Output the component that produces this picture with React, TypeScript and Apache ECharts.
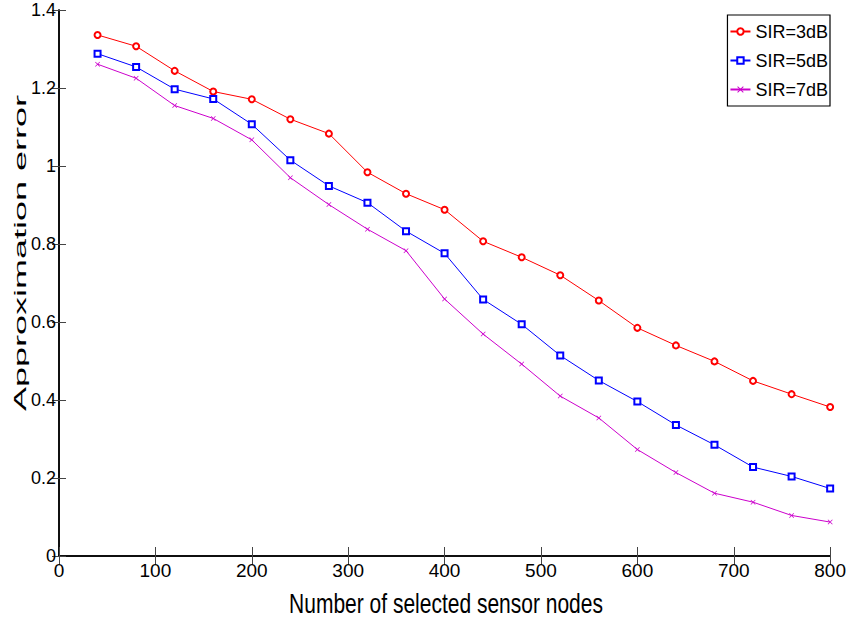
import React, { useEffect, useRef } from "react";
import * as echarts from "echarts";

const nodeCounts = [40, 80, 120, 160, 200, 240, 280, 320, 360, 400, 440, 480, 520, 560, 600, 640, 680, 720, 760, 800];
const sir3 = [1.336, 1.307, 1.244, 1.191, 1.171, 1.120, 1.083, 0.984, 0.929, 0.888, 0.807, 0.766, 0.720, 0.655, 0.585, 0.540, 0.499, 0.449, 0.415, 0.382];
const sir5 = [1.288, 1.254, 1.197, 1.172, 1.107, 1.015, 0.949, 0.906, 0.833, 0.776, 0.658, 0.594, 0.514, 0.450, 0.396, 0.336, 0.285, 0.228, 0.204, 0.173];
const sir7 = [1.261, 1.225, 1.155, 1.122, 1.067, 0.970, 0.901, 0.838, 0.783, 0.659, 0.569, 0.492, 0.410, 0.354, 0.273, 0.214, 0.161, 0.138, 0.104, 0.087];
const seriesNames = ["SIR=3dB", "SIR=5dB", "SIR=7dB"];
const xLabel = "Number of selected sensor nodes";
const yLabel = "Approximation error";

const FONT = "'Liberation Sans', Arial, sans-serif";
const xMark = "path://M0,1 L1,0 L5,4 L9,0 L10,1 L6,5 L10,9 L9,10 L5,6 L1,10 L0,9 L4,5 Z";

export default function App() {
  const ref = useRef<HTMLDivElement>(null);
  useEffect(() => {
    document.body.style.margin = "0";
    const chart = echarts.init(ref.current!, null, { renderer: "svg" });
    const pair = (ys: number[]) => nodeCounts.map((x, i) => [x, ys[i]]);
    const tickStyle = { show: true, inside: true, length: 9, lineStyle: { color: "#444", width: 1 } };
    const lineAxis = { show: true, lineStyle: { color: "#000", width: 1.5 } };
    chart.setOption({
      animation: false,
      backgroundColor: "#fff",
      grid: { left: 59, right: 16, top: 10, bottom: 65, containLabel: false },
      xAxis: [
        {
          type: "value", min: 0, max: 800, interval: 100, position: "bottom",
          axisLine: lineAxis, axisTick: tickStyle, splitLine: { show: false },
          axisLabel: { color: "#000", fontSize: 19, fontFamily: FONT, margin: 5 },
        },
        {
          type: "value", min: 0, max: 800, interval: 100, position: "top",
          axisLine: lineAxis, axisTick: tickStyle, splitLine: { show: false },
          axisLabel: { show: false },
        },
      ],
      yAxis: [
        {
          type: "value", min: 0, max: 1.4, interval: 0.2, position: "left",
          axisLine: lineAxis, axisTick: { ...tickStyle, length: 7 }, splitLine: { show: false },
          axisLabel: { color: "#000", fontSize: 18, fontFamily: FONT, margin: 3 },
        },
        {
          type: "value", min: 0, max: 1.4, interval: 0.2, position: "right",
          axisLine: lineAxis, axisTick: { ...tickStyle, length: 7 }, splitLine: { show: false },
          axisLabel: { show: false },
        },
      ],
      legend: {
        orient: "vertical", right: 19, top: 15,
        backgroundColor: "#fff", borderColor: "#000", borderWidth: 1.2, borderRadius: 0,
        padding: [4, 2, 4, 2], itemGap: 4, itemWidth: 20, itemHeight: 8,
        textStyle: { fontSize: 18, lineHeight: 25, fontFamily: FONT, color: "#000" },
        data: seriesNames,
      },
      graphic: [
        {
          type: "text", x: 21, y: 253, rotation: Math.PI / 2, scaleX: 2.25, scaleY: 1,
          style: { text: yLabel, fontSize: 16, fontFamily: FONT, fill: "#000", textAlign: "center", textVerticalAlign: "middle", verticalAlign: "middle", align: "center" },
        },
        {
          type: "text", x: 446, y: 603, scaleX: 0.75, scaleY: 1,
          style: { text: xLabel, fontSize: 28, fontFamily: FONT, fill: "#000", textAlign: "center", textVerticalAlign: "middle", verticalAlign: "middle", align: "center" },
        },
      ],
      series: [
        {
          name: seriesNames[0], type: "line", data: pair(sir3), symbol: "emptyCircle", symbolSize: 6,
          lineStyle: { color: "#ff0000", width: 1 }, itemStyle: { color: "#ff0000", borderWidth: 1 },
        },
        {
          name: seriesNames[1], type: "line", data: pair(sir5), symbol: "emptyRect", symbolSize: 6,
          lineStyle: { color: "#0000ff", width: 1 }, itemStyle: { color: "#0000ff", borderWidth: 1 },
        },
        {
          name: seriesNames[2], type: "line", data: pair(sir7), symbol: xMark, symbolSize: 5,
          lineStyle: { color: "#cc00cc", width: 1 }, itemStyle: { color: "#cc00cc" },
        },
      ],
    });
    return () => chart.dispose();
  }, []);
  return <div ref={ref} style={{ width: 849, height: 621 }} />;
}
